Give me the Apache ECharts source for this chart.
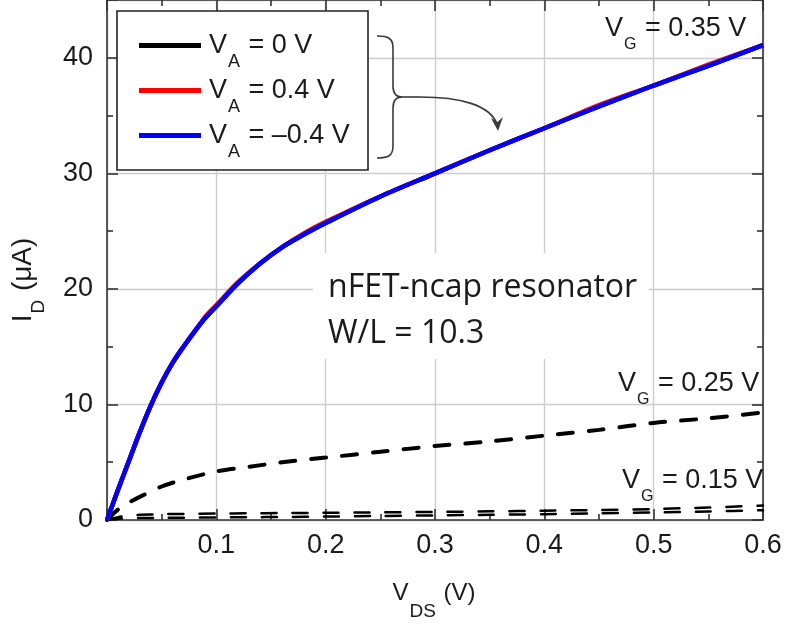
<!DOCTYPE html>
<html>
<head>
<meta charset="utf-8">
<script src="https://cdn.jsdelivr.net/npm/echarts@6/dist/echarts.min.js"></script>
<style>
  html, body { margin: 0; padding: 0; background: #fff; }
  #chart { width: 785px; height: 623px; }
</style>
</head>
<body>
<div id="chart"></div>
<script>
// Drain voltage sweep (V)
const vdsMain = [0, 0.005, 0.01, 0.02, 0.03, 0.04, 0.05, 0.06, 0.07, 0.08, 0.09, 0.1, 0.12, 0.14, 0.16, 0.18, 0.2, 0.25, 0.3, 0.35, 0.4, 0.45, 0.5, 0.55, 0.6];
// V_G = 0.35 V drain current (µA) for the three anchor biases
const idVa0    = [0, 1.3, 2.6, 5.1, 7.6, 9.9, 11.9, 13.6, 15.0, 16.3, 17.5, 18.5, 20.5, 22.2, 23.6, 24.7, 25.7, 28.0, 30.0, 32.0, 33.9, 35.8, 37.6, 39.3, 41.1];
const idVaPos  = [0, 1.3, 2.6, 5.1, 7.6, 9.9, 11.9, 13.6, 15.0, 16.3, 17.6, 18.6, 20.6, 22.2, 23.6, 24.8, 25.8, 28.0, 30.0, 32.0, 33.9, 35.9, 37.6, 39.4, 41.1];
const idVaNeg  = [0, 1.3, 2.6, 5.1, 7.6, 9.9, 11.9, 13.6, 15.0, 16.3, 17.5, 18.5, 20.5, 22.2, 23.6, 24.7, 25.7, 28.0, 30.0, 32.0, 33.9, 35.8, 37.6, 39.3, 41.1];

// Lower gate biases
const vdsLow   = [0, 0.01, 0.02, 0.03, 0.05, 0.07, 0.1, 0.13, 0.16, 0.2, 0.25, 0.3, 0.35, 0.4, 0.45, 0.5, 0.55, 0.6];
const idVg025  = [0, 0.9, 1.5, 2.0, 2.9, 3.5, 4.2, 4.6, 5.0, 5.4, 5.9, 6.4, 6.8, 7.3, 7.8, 8.4, 8.8, 9.3];
const idVg015a = [0, 0.25, 0.4, 0.45, 0.5, 0.53, 0.56, 0.58, 0.6, 0.62, 0.66, 0.7, 0.75, 0.8, 0.87, 0.95, 1.08, 1.25];
const idVg015b = [0, 0.1, 0.15, 0.17, 0.19, 0.2, 0.22, 0.24, 0.26, 0.3, 0.35, 0.4, 0.45, 0.5, 0.57, 0.65, 0.74, 0.85];

// Axis ticks
const xTicks = { min: 0, max: 0.6, step: 0.1 };
const yTicks = { min: 0, max: 45, step: 10 };

// Legend entries: main letter, subscript, remainder
const seriesNames = ['VA = 0 V', 'VA = 0.4 V', 'VA = -0.4 V'];
const legendParts = [['V', 'A', ' = 0 V'], ['V', 'A', ' = 0.4 V'], ['V', 'A', ' = \u20130.4 V']];
const seriesColors = ['#000000', '#ff0000', '#0000ff'];

const FONT = '"Liberation Sans", Arial, sans-serif';
const INK = '#1a1a1a';

function pairs(xs, ys) { return xs.map((x, i) => [x, ys[i]]); }

// Rich-text styles for a letter with a lowered subscript
function subRich(mainSize, subSize, offset) {
  const lh = mainSize + 4;
  const t = Math.round(offset + lh / 2 - subSize / 2);
  const base = { fontFamily: FONT, color: INK, fill: INK };
  return {
    v:  Object.assign({}, base, { fontSize: mainSize, lineHeight: lh }),
    v0: Object.assign({}, base, { fontSize: mainSize, lineHeight: lh, padding: [0, 0, 0, 3] }),
    s:  Object.assign({}, base, { fontSize: subSize, lineHeight: subSize, verticalAlign: 'top', padding: [t, 1, 0, 1] })
  };
}

const chart = echarts.init(document.getElementById('chart'), null, { renderer: 'canvas' });

const axisLineStyle = { color: '#333', width: 1.6 };
const gridLineStyle = { color: '#cccccc', width: 1.4 };

function xAxisDef(pos, labels) {
  return {
    type: 'value', position: pos, min: xTicks.min, max: xTicks.max, interval: xTicks.step,
    axisLine: { show: true, onZero: false, lineStyle: axisLineStyle },
    axisTick: { show: true, inside: true, length: 11, lineStyle: axisLineStyle },
    minorTick: { show: true, splitNumber: 2, length: 6, lineStyle: axisLineStyle },
    splitLine: { show: labels, lineStyle: gridLineStyle },
    axisLabel: labels ? {
      show: true, margin: 12, fontSize: 27, fontFamily: FONT, color: INK,
      formatter: v => (Math.abs(v) < 1e-9 ? '' : v.toFixed(1))
    } : { show: false }
  };
}
function yAxisDef(pos, labels) {
  return {
    type: 'value', position: pos, min: yTicks.min, max: yTicks.max, interval: yTicks.step,
    axisLine: { show: true, onZero: false, lineStyle: axisLineStyle },
    axisTick: { show: true, inside: true, length: 11, lineStyle: axisLineStyle },
    minorTick: { show: true, splitNumber: 2, length: 6, lineStyle: axisLineStyle },
    splitLine: { show: labels, lineStyle: gridLineStyle },
    axisLabel: labels ? {
      show: true, margin: 14, fontSize: 27, fontFamily: FONT, color: INK,
      formatter: v => (v % yTicks.step === 0 ? String(v) : '')
    } : { show: false }
  };
}

function solid(name, ys, color) {
  return {
    name, type: 'line', data: pairs(vdsMain, ys), showSymbol: false, smooth: 0.3,
    lineStyle: { color, width: 4.5 }, itemStyle: { color }, z: 3
  };
}
function dashed(ys, width) {
  return {
    type: 'line', data: pairs(vdsLow, ys), showSymbol: false, smooth: 0.3, silent: true,
    lineStyle: { color: '#000', width, type: [15, 16], cap: 'round' }, z: 2
  };
}

const legendRich = subRich(27, 18, 16);
const gate = subRich(27, 16, 15.5);
const xName = subRich(24, 19, 18);
const yName = subRich(28, 19, 15);

const braceColor = '#3a3a3a';
const braceStyle = { fill: null, stroke: braceColor, lineWidth: 1.6 };
function curve(x1, y1, c1x, c1y, c2x, c2y, x2, y2) {
  return { type: 'bezierCurve', z: 6, shape: { x1, y1, cpx1: c1x, cpy1: c1y, cpx2: c2x, cpy2: c2y, x2, y2 }, style: braceStyle };
}
function seg(x1, y1, x2, y2) {
  return { type: 'line', z: 6, shape: { x1, y1, x2, y2 }, style: braceStyle };
}
function gateLabel(x, y, value) {
  return { type: 'text', x, y, z: 6, style: {
    text: '{v|V}{s|G}{v| = ' + value + ' V}', rich: gate, verticalAlign: 'middle' } };
}

chart.setOption({
  animation: false,
  backgroundColor: '#ffffff',
  grid: { left: 107, right: 22, top: 0, bottom: 103, containLabel: false },
  xAxis: [xAxisDef('bottom', true), xAxisDef('top', false)],
  yAxis: [yAxisDef('left', true), yAxisDef('right', false)],
  legend: {
    data: seriesNames, orient: 'vertical', left: 139, top: 30, padding: 0,
    itemWidth: 62, itemHeight: 5, itemGap: 4, icon: 'rect', selectedMode: false, z: 10,
    formatter: name => {
      const p = legendParts[seriesNames.indexOf(name)];
      return '{v0|' + p[0] + '}{s|' + p[1] + '}{v|' + p[2] + '}';
    },
    textStyle: { rich: legendRich }
  },
  series: [
    dashed(idVg015b, 2.5),
    dashed(idVg015a, 2.5),
    dashed(idVg025, 4),
    solid(seriesNames[0], idVa0, seriesColors[0]),
    solid(seriesNames[1], idVaPos, seriesColors[1]),
    solid(seriesNames[2], idVaNeg, seriesColors[2])
  ],
  graphic: { elements: [
    // legend frame
    { type: 'rect', shape: { x: 117, y: 11, width: 251, height: 159 }, z: 5,
      style: { fill: '#fff', stroke: '#222', lineWidth: 1.6 } },
    // brace grouping the three biases, with an arrow to the curve
    curve(377, 36, 388, 36, 393, 38, 393, 48),
    seg(393, 48, 393, 86),
    curve(393, 86, 393, 93, 396, 97, 402, 97),
    curve(377, 158, 388, 158, 393, 156, 393, 146),
    seg(393, 146, 393, 108),
    curve(393, 108, 393, 101, 396, 97, 402, 97),
    seg(402, 97, 420, 97),
    curve(420, 97, 460, 97, 490, 105, 497, 124),
    { type: 'polygon', z: 6, shape: { points: [[491, 118], [498, 131], [503, 117], [497.5, 122]] },
      style: { fill: braceColor } },
    // device description
    { type: 'text', x: 313, y: 253, z: 6, style: {
        text: 'nFET-ncap resonator\nW/L = 10.3', font: '32px "Open Sans", sans-serif',
        fill: INK, lineHeight: 46, backgroundColor: '#fff', padding: [12, 12, 2, 15] } },
    // gate-bias labels
    gateLabel(605, 29, '0.35'),
    gateLabel(618, 384, '0.25'),
    gateLabel(622, 481, '0.15'),
    // blank margin right of the frame
    { type: 'rect', z: 7, shape: { x: 764.5, y: 340, width: 30, height: 170 }, style: { fill: '#fff' } },
    // axis titles
    { type: 'text', x: 434, y: 593, z: 6, style: {
        text: '{v|V}{s|DS}{v| (V)}', rich: xName, align: 'center', verticalAlign: 'middle' } },
    { type: 'text', x: 23, y: 280, rotation: Math.PI / 2, z: 6, style: {
        text: '{v|I}{s|D}{v| (\u03bcA)}', rich: yName, align: 'center', verticalAlign: 'middle' } }
  ] }
});
</script>
</body>
</html>
